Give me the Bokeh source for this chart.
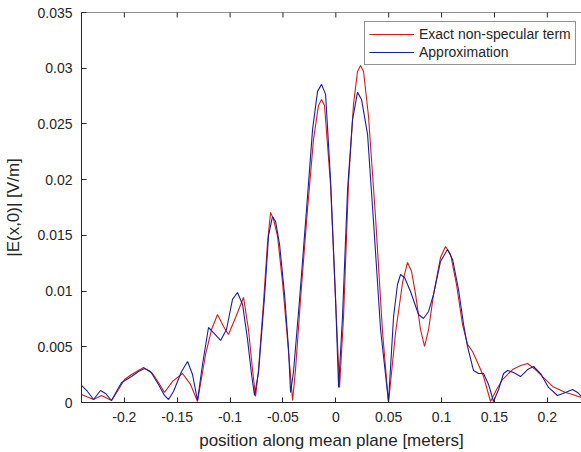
import math
from bokeh.plotting import figure
from bokeh.models import Range1d, FixedTicker, Legend, LegendItem, Span
from bokeh.embed import file_html
from bokeh.resources import INLINE

# ---- data ----
series_names = ["Exact non-specular term", "Approximation"]

x_exact = [-0.2405, -0.2291, -0.2216, -0.2121, -0.2055, -0.1998, -0.1932, -0.1818, -0.1733, -0.1677,
           -0.1620, -0.1544, -0.1450, -0.1374, -0.1308, -0.1232, -0.1175, -0.1119, -0.1062, -0.1015,
           -0.0948, -0.0873, -0.0826, -0.0788, -0.0759, -0.0731, -0.0684, -0.0646, -0.0617, -0.0589,
           -0.0551, -0.0504, -0.0457, -0.0428, -0.0409, -0.0381, -0.0334, -0.0268, -0.0211, -0.0164,
           -0.0135, -0.0107, -0.0050, -0.0003, 0.0035, 0.0073, 0.0120, 0.0167, 0.0205, 0.0234,
           0.0262, 0.0309, 0.0375, 0.0442, 0.0498, 0.0565, 0.0631, 0.0678, 0.0716, 0.0754,
           0.0801, 0.0839, 0.0877, 0.0924, 0.0990, 0.1037, 0.1085, 0.1141, 0.1198, 0.1245,
           0.1293, 0.1340, 0.1397, 0.1463, 0.1520, 0.1576, 0.1671, 0.1747, 0.1813, 0.1888,
           0.1955, 0.2049, 0.2172, 0.2238, 0.2323]
y_exact = [0.00072, 0.00027, 0.00063, 0.00018, 0.00117, 0.00206, 0.00251, 0.00314, 0.00260, 0.00180,
           0.00090, 0.00189, 0.00260, 0.00162, 0.00009, 0.00431, 0.00655, 0.00790, 0.00682, 0.00610,
           0.00763, 0.00943, 0.00655, 0.00296, 0.00054, 0.00296, 0.00898, 0.01436, 0.01706, 0.01643,
           0.01490, 0.01077, 0.00566, 0.00233, 0.00018, 0.00296, 0.00925, 0.01733, 0.02361, 0.02666,
           0.02720, 0.02666, 0.01957, 0.00925, 0.00135, 0.00772, 0.01975, 0.02675, 0.02971, 0.03025,
           0.02971, 0.02567, 0.01670, 0.00628, 0.00000, 0.00628, 0.01077, 0.01257, 0.01176, 0.00970,
           0.00655, 0.00503, 0.00655, 0.00970, 0.01302, 0.01400, 0.01329, 0.01059, 0.00700, 0.00521,
           0.00458, 0.00359, 0.00233, 0.00009, 0.00117, 0.00206, 0.00296, 0.00332, 0.00350, 0.00296,
           0.00233, 0.00144, 0.00090, 0.00072, 0.00045]

x_approx = [-0.2405, -0.2348, -0.2291, -0.2225, -0.2178, -0.2121, -0.2074, -0.2026, -0.1932, -0.1866,
            -0.1809, -0.1752, -0.1677, -0.1620, -0.1582, -0.1535, -0.1459, -0.1402, -0.1355, -0.1308,
            -0.1261, -0.1204, -0.1157, -0.1090, -0.1034, -0.0977, -0.0930, -0.0882, -0.0835, -0.0797,
            -0.0769, -0.0731, -0.0674, -0.0636, -0.0599, -0.0570, -0.0532, -0.0485, -0.0447, -0.0428,
            -0.0400, -0.0343, -0.0277, -0.0220, -0.0173, -0.0135, -0.0097, -0.0050, -0.0003, 0.0026,
            0.0063, 0.0111, 0.0158, 0.0205, 0.0243, 0.0300, 0.0357, 0.0423, 0.0498, 0.0546,
            0.0583, 0.0612, 0.0650, 0.0706, 0.0782, 0.0829, 0.0877, 0.0924, 0.0990, 0.1056,
            0.1104, 0.1160, 0.1208, 0.1245, 0.1302, 0.1349, 0.1397, 0.1444, 0.1491, 0.1539,
            0.1586, 0.1624, 0.1680, 0.1747, 0.1813, 0.1870, 0.1936, 0.2011, 0.2096, 0.2172,
            0.2238, 0.2286, 0.2323]
y_approx = [0.00153, 0.00099, 0.00027, 0.00108, 0.00081, 0.00018, 0.00099, 0.00180, 0.00233, 0.00278,
            0.00305, 0.00278, 0.00162, 0.00063, 0.00027, 0.00099, 0.00278, 0.00368, 0.00251, 0.00018,
            0.00341, 0.00673, 0.00628, 0.00557, 0.00655, 0.00925, 0.00987, 0.00880, 0.00566, 0.00251,
            0.00063, 0.00269, 0.00952, 0.01499, 0.01670, 0.01625, 0.01418, 0.00970, 0.00476, 0.00090,
            0.00278, 0.00925, 0.01733, 0.02451, 0.02792, 0.02855, 0.02765, 0.02002, 0.00943, 0.00135,
            0.00772, 0.01912, 0.02540, 0.02783, 0.02720, 0.02406, 0.01616, 0.00655, 0.00009, 0.00772,
            0.01059, 0.01149, 0.01122, 0.00996, 0.00790, 0.00754, 0.00817, 0.00970, 0.01266, 0.01373,
            0.01284, 0.01014, 0.00700, 0.00503, 0.00287, 0.00260, 0.00260, 0.00162, 0.00009, 0.00117,
            0.00260, 0.00287, 0.00269, 0.00233, 0.00296, 0.00323, 0.00260, 0.00135, 0.00063, 0.00090,
            0.00117, 0.00090, 0.00054]

x_ticks = [-0.2, -0.15, -0.1, -0.05, 0, 0.05, 0.1, 0.15, 0.2]
x_tick_labels = ["-0.2", "-0.15", "-0.1", "-0.05", "0", "0.05", "0.1", "0.15", "0.2"]
y_ticks = [0, 0.005, 0.01, 0.015, 0.02, 0.025, 0.03, 0.035]
y_tick_labels = ["0", "0.005", "0.01", "0.015", "0.02", "0.025", "0.03", "0.035"]

x_label = "position along mean plane [meters]"
y_label = "|E(x,0)| [V/m]"

X_MIN, X_MAX = -0.2405, 0.2323
Y_MIN, Y_MAX = 0.0, 0.035

# ---- styling ----
FONT = "Liberation Sans"
INK = "#262626"
RED = "#d01c1c"
BLUE = "#1c1ca0"

p = figure(width=581, height=452, output_backend="svg", toolbar_location=None,
           x_range=Range1d(X_MIN, X_MAX), y_range=Range1d(Y_MIN, Y_MAX),
           min_border_left=81, min_border_right=0, min_border_top=12, min_border_bottom=49,
           background_fill_color="white", border_fill_color="white")
p.outline_line_color = None
p.xgrid.visible = False
p.ygrid.visible = False

r_exact = p.line(x_exact, y_exact, line_color=RED, line_width=1.1)
r_approx = p.line(x_approx, y_approx, line_color=BLUE, line_width=1.1)

# top box edge with inward ticks (mirrors the bottom axis)
p.add_layout(Span(location=Y_MAX, dimension="width", line_color=INK, line_width=1))
p.scatter(x=x_ticks, y=[Y_MAX] * len(x_ticks), marker="dash", angle=math.pi / 2,
          size=10, line_color=INK, line_width=1)

bottom_axis = p.below[0]
left_axis = p.left[0]

bottom_axis.ticker = FixedTicker(ticks=x_ticks)
bottom_axis.major_label_overrides = {t: s for t, s in zip(x_ticks, x_tick_labels)}
left_axis.ticker = FixedTicker(ticks=y_ticks)
left_axis.major_label_overrides = {t: s for t, s in zip(y_ticks, y_tick_labels)}

for ax in [bottom_axis, left_axis]:
    ax.major_tick_in = 5
    ax.major_tick_out = 0
    ax.minor_tick_line_color = None
    ax.axis_line_color = INK
    ax.major_tick_line_color = INK
    ax.major_label_text_color = INK
    ax.major_label_text_font = FONT
    ax.major_label_text_font_size = "14px"
    ax.major_label_standoff = 9
    ax.axis_label_text_font = FONT
    ax.axis_label_text_font_size = "17px"
    ax.axis_label_text_font_style = "normal"
    ax.axis_label_text_color = INK

bottom_axis.axis_label = x_label
left_axis.axis_label = y_label
bottom_axis.axis_label_standoff = 6
left_axis.axis_label_standoff = 11

legend = Legend(items=[LegendItem(label=series_names[0], renderers=[r_exact]),
                       LegendItem(label=series_names[1], renderers=[r_approx])],
                location=(283, 337))
legend.label_text_font = FONT
legend.label_text_font_size = "14px"
legend.label_text_color = INK
legend.glyph_width = 45
legend.glyph_height = 16
legend.label_height = 16
legend.spacing = 2
legend.padding = 4
legend.margin = 0
legend.label_standoff = 5
legend.border_line_color = INK
legend.border_line_width = 1
legend.background_fill_color = "white"
legend.background_fill_alpha = 1
p.add_layout(legend)

open("out.html", "w").write(file_html(p, INLINE))
